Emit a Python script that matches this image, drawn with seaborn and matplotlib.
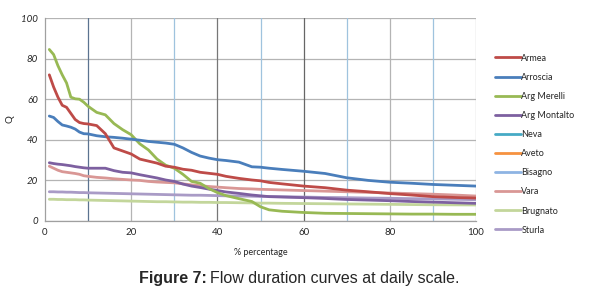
import numpy as np
import pandas as pd
import seaborn as sns
import matplotlib.pyplot as plt
from matplotlib.lines import Line2D

# exceedance percentage (shared by all series)
pct = [1, 2, 3, 4, 5, 6, 7, 8, 9, 10, 12, 14, 16, 18, 20, 22, 24, 26, 28, 30,
       32, 34, 36, 38, 40, 42, 45, 48, 50, 52, 55, 60, 65, 70, 75, 80, 85, 90, 95, 100]

armea = [72, 66, 61, 57, 56, 53, 50, 48.5, 48, 47.8, 47, 43, 36, 34.5, 33, 30.5, 29.5, 28.5, 27, 26.5,
         25.5, 25, 24, 23.5, 23, 22, 21, 20.2, 19.8, 19, 18.3, 17.2, 16.4, 15.2, 14.4, 13.5, 12.8, 12, 11.6, 11.3]
arroscia = [51.7, 51, 49, 47.3, 46.8, 46.2, 45.3, 43.8, 43, 42.9, 42, 41.5, 41.2, 40.8, 40.3, 39.8, 39.2, 38.8, 38.4, 37.8,
            36, 33.8, 32, 31, 30.2, 29.8, 29, 26.7, 26.5, 26, 25.4, 24.5, 23.4, 21.3, 20, 19.1, 18.6, 18, 17.6, 17.2]
arg_merelli = [84.5, 82, 76.5, 72, 68, 61, 60.2, 60, 58.5, 56.5, 53.5, 52.3, 48, 45, 42.5, 38, 35, 30.5, 27.5, 26,
               23, 19.5, 18.6, 16, 14, 12.5, 11, 9.6, 7, 5.5, 4.8, 4.2, 3.8, 3.7, 3.6, 3.5, 3.4, 3.4, 3.3, 3.3]
arg_montalto = [28.7, 28.3, 28, 27.8, 27.5, 27.2, 26.8, 26.5, 26.2, 26, 26, 26, 24.8, 24, 23.7, 22.8, 22, 21.2, 20.2, 19.5,
                18.2, 17.2, 16.5, 15.7, 15, 14.3, 13.6, 12.8, 12.4, 12, 11.8, 11.5, 11.1, 10.6, 10.3, 10, 9.6, 9.3, 9, 8.7]
vara = [27, 26, 25, 24.3, 24, 23.7, 23.4, 23, 22.3, 22, 21.5, 21.2, 20.8, 20.5, 20.2, 20, 19.5, 19.2, 19, 18.8,
        18.3, 17.8, 17.4, 17, 16.7, 16.4, 16, 15.8, 15.6, 15.5, 15.3, 15, 14.7, 14.4, 14.1, 13.8, 13.5, 13.2, 12.8, 12.3]
brugnato = [10.7, 10.7, 10.6, 10.6, 10.5, 10.5, 10.5, 10.4, 10.4, 10.3, 10.2, 10.1, 10, 9.9, 9.8, 9.7, 9.6, 9.5, 9.5, 9.4,
            9.3, 9.3, 9.2, 9.2, 9.1, 9.1, 9, 8.9, 8.8, 8.8, 8.7, 8.6, 8.5, 8.4, 8.3, 8.2, 8.1, 8, 7.95, 7.9]
sturla = [14.4, 14.4, 14.3, 14.3, 14.2, 14.2, 14.1, 14, 14, 13.9, 13.8, 13.7, 13.6, 13.5, 13.4, 13.3, 13.2, 13.1, 13, 12.9,
          12.8, 12.7, 12.7, 12.6, 12.5, 12.4, 12.3, 12.2, 12.1, 12.1, 12, 11.8, 11.6, 11.5, 11.3, 11.2, 11, 10.9, 10.7, 10.5]

stations = ['Armea', 'Arroscia', 'Arg Merelli', 'Arg Montalto', 'Neva',
            'Aveto', 'Bisagno', 'Vara', 'Brugnato', 'Sturla']
colors = ['#be4b48', '#4a7ebb', '#98b954', '#7d60a0', '#46aac5',
          '#f69240', '#8eb4e3', '#d99795', '#c3d69b', '#a99bc6']
series = {'Armea': armea, 'Arroscia': arroscia, 'Arg Merelli': arg_merelli,
          'Arg Montalto': arg_montalto, 'Vara': vara, 'Brugnato': brugnato,
          'Sturla': sturla}

rows = []
for name, vals in series.items():
    for p, q in zip(pct, vals):
        rows.append((name, p, q))
df = pd.DataFrame(rows, columns=['Station', 'pct', 'Q'])

sns.set_style('white')
plt.rcParams['font.family'] = ['Lato', 'DejaVu Sans']

fig = plt.figure(figsize=(5.89, 2.92), dpi=100)
ax = fig.add_axes([45 / 589, 71 / 292, 431 / 589, 203 / 292])

palette = dict(zip(stations, colors))
# draw order like the original: later series on top
draw_order = ['Sturla', 'Brugnato', 'Vara', 'Arg Montalto', 'Arg Merelli', 'Arroscia', 'Armea']
for name in draw_order:
    sns.lineplot(data=df[df['Station'] == name], x='pct', y='Q', color=palette[name],
                 lw=2, ax=ax, legend=False, zorder=3)

ax.set_xlim(0, 100)
ax.set_ylim(0, 100)
ax.set_xticks(range(0, 101, 20))
ax.set_yticks(range(0, 101, 20))
ax.grid(axis='y', color='#b4b4b4', lw=0.9)

vcols = {10: '#5b7390', 20: '#b4b4b4', 30: '#9fc3de', 40: '#777777', 50: '#9fc3de',
         60: '#666666', 70: '#9fc3de', 80: '#b4b4b4', 90: '#9fc3de', 100: '#b4b4b4'}
for xv, c in vcols.items():
    ax.axvline(xv, color=c, lw=0.9, zorder=1)

for s in ['top', 'right']:
    ax.spines[s].set_visible(False)
for s in ['left', 'bottom']:
    ax.spines[s].set_color('#a0a0a0')
    ax.spines[s].set_linewidth(0.9)

ax.tick_params(axis='y', which='major', length=3, color='#a0a0a0', labelsize=7, pad=2)
ax.tick_params(axis='x', which='both', length=0, labelsize=7, pad=5)
for lab in ax.get_yticklabels():
    lab.set_fontstyle('italic')

ax.set_xlabel('% percentage', fontsize=6.5, labelpad=8)
ax.set_ylabel('Q', fontsize=7, labelpad=5)

handles = [Line2D([], [], color=c, lw=2) for c in colors]
ax.legend(handles, stations, loc='upper left', bbox_to_anchor=(491 / 589, 242 / 292),
          bbox_transform=fig.transFigure, frameon=False, fontsize=6.5,
          handlelength=2.9, handletextpad=0.05, labelspacing=1.12, borderaxespad=0)

fig.text(207 / 589, 14 / 292, 'Figure 7:', ha='right', va='center', fontsize=11.5,
         fontweight='bold', family='Liberation Sans')
fig.text(210 / 589, 14 / 292, 'Flow duration curves at daily scale.', ha='left', va='center',
         fontsize=11.5, family='Liberation Sans')

fig.savefig('out.png', dpi=100)
